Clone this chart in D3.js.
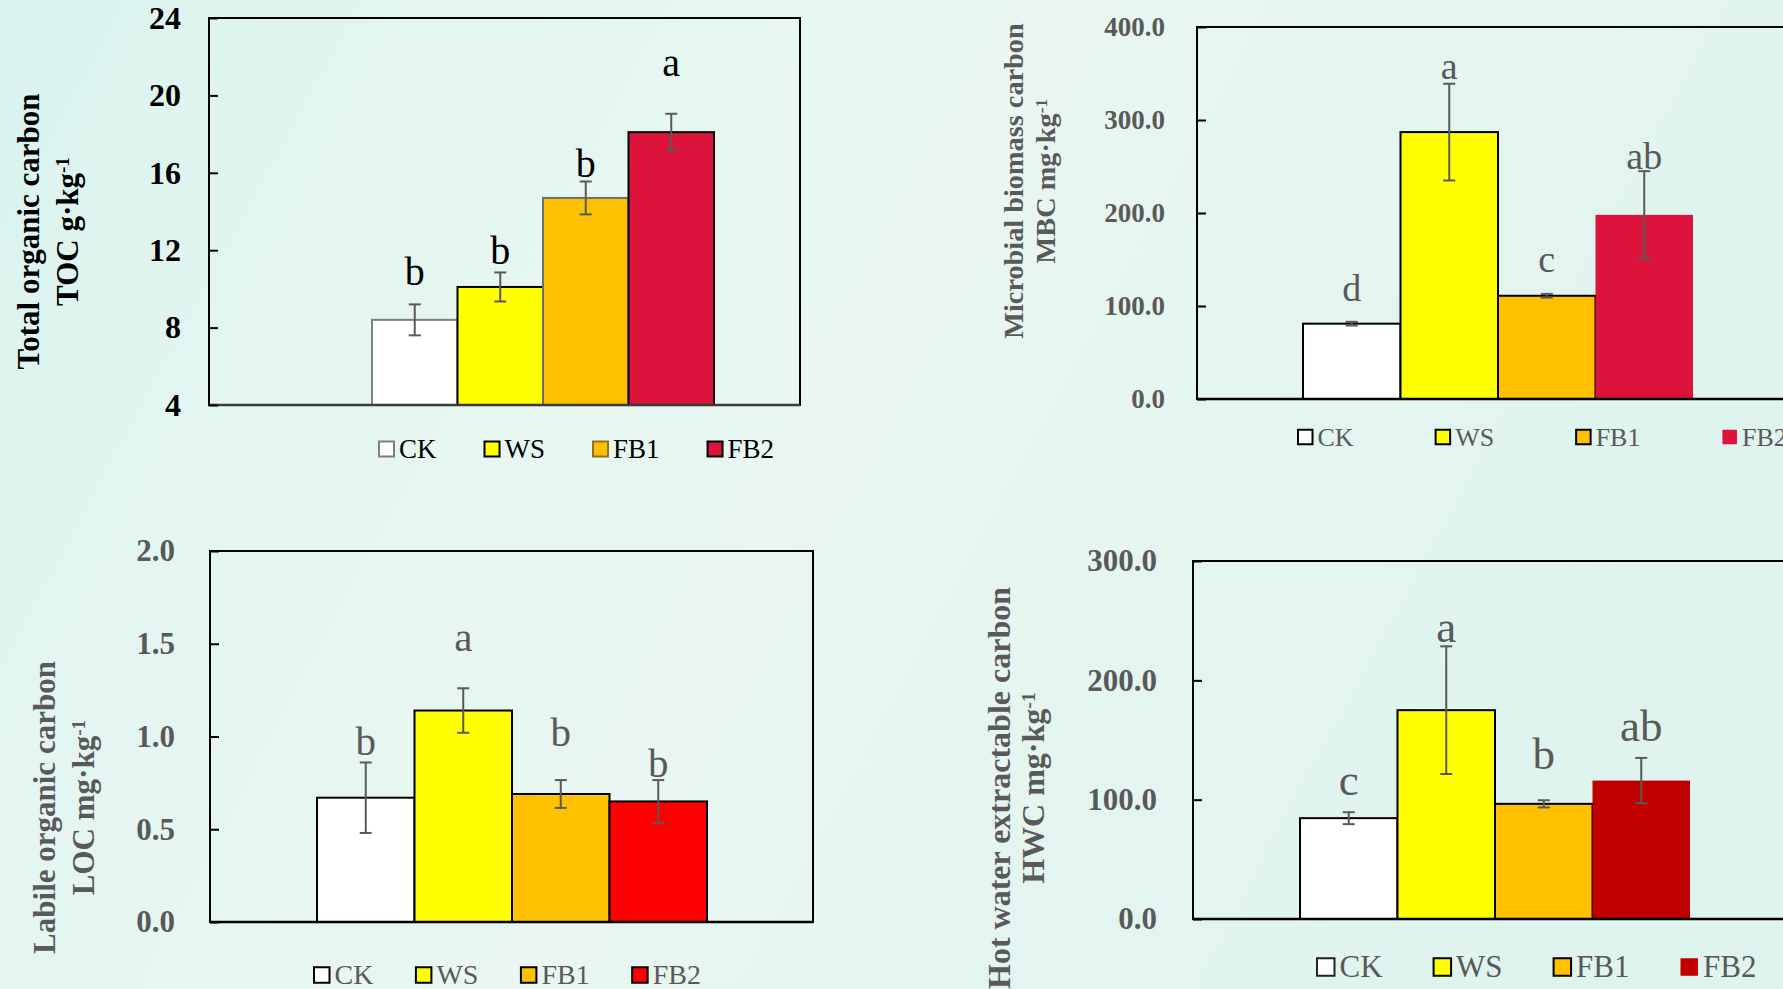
<!DOCTYPE html>
<html>
<head>
<meta charset="utf-8">
<script src="https://cdn.jsdelivr.net/npm/d3@7/dist/d3.min.js"></script>
<style>
  html, body { margin: 0; padding: 0; background: #e5f5f0; }
  svg { display: block; }
  text { font-family: "Liberation Serif", "Times New Roman", serif; }
</style>
</head>
<body>
<svg id="fig" width="1783" height="989"></svg>
<script>
// Treatments shared by all four panels
const groups = ["CK", "WS", "FB1", "FB2"];

// Total organic carbon (g·kg-1)
const tocMean = [8.4, 10.1, 14.7, 18.1];
const tocErr = [0.8, 0.75, 0.85, 0.95];
const tocLetters = ["b", "b", "b", "a"];
const tocLetterAt = [10.2, 11.3, 15.8, 21.0];
const tocTicks = [4, 8, 12, 16, 20, 24];

// Microbial biomass carbon (mg·kg-1)
const mbcMean = [81, 287, 111, 198];
const mbcErr = [2, 52, 2, 47];
const mbcLetters = ["d", "a", "c", "ab"];
const mbcLetterAt = [105, 344, 137, 247];
const mbcTicks = [0, 100, 200, 300, 400];

// Labile organic carbon (mg·kg-1)
const locMean = [0.67, 1.14, 0.69, 0.65];
const locErr = [0.19, 0.12, 0.075, 0.115];
const locLetters = ["b", "a", "b", "b"];
const locLetterAt = [0.90, 1.46, 0.95, 0.78];
const locTicks = [0, 0.5, 1.0, 1.5, 2.0];

// Hot water extractable carbon (mg·kg-1)
const hwcMean = [84.5, 175, 96.5, 116];
const hwcErr = [5, 53.5, 3, 19];
const hwcLetters = ["c", "a", "b", "ab"];
const hwcLetterAt = [104, 232, 126, 149];
const hwcTicks = [0, 100, 200, 300];

const GRAY = "#595959";
const svg = d3.select("#fig");

// soft mint backdrop
const defs = svg.append("defs");
const bg = defs.append("linearGradient").attr("id", "bg").attr("x1", "0").attr("x2", "1").attr("y1", "0").attr("y2", "0.3");
[["0%", "#d9f3ee"], ["25%", "#e4f6f1"], ["55%", "#e9f6f1"], ["80%", "#e3f5f0"], ["100%", "#dff4ee"]]
  .forEach(([o, c]) => bg.append("stop").attr("offset", o).attr("stop-color", c));
svg.append("rect").attr("width", 1783).attr("height", 989).attr("fill", "url(#bg)");

function panel(p) {
  const g = svg.append("g");
  const y = d3.scaleLinear().domain(d3.extent(p.ticks)).range([p.bottom, p.top]);
  const x = d3.scaleBand().domain(groups).range([p.barL, p.barR]).padding(0);
  const base = y.domain()[0];

  // bars
  g.selectAll("rect.bar").data(groups).join("rect")
    .attr("class", "bar")
    .attr("x", d => x(d))
    .attr("width", x.bandwidth())
    .attr("y", (d, i) => y(p.mean[i]))
    .attr("height", (d, i) => y(base) - y(p.mean[i]))
    .attr("fill", (d, i) => p.fill[i])
    .attr("stroke", (d, i) => p.stroke[i])
    .attr("stroke-width", 2);

  // error bars
  const eb = g.selectAll("g.err").data(groups).join("g").attr("class", "err")
    .attr("stroke", GRAY).attr("stroke-width", 2);
  eb.append("line")
    .attr("x1", d => x(d) + x.bandwidth() / 2).attr("x2", d => x(d) + x.bandwidth() / 2)
    .attr("y1", (d, i) => y(p.mean[i] + p.err[i])).attr("y2", (d, i) => y(p.mean[i] - p.err[i]));
  [1, -1].forEach(s => {
    eb.append("line")
      .attr("x1", d => x(d) + x.bandwidth() / 2 - 6).attr("x2", d => x(d) + x.bandwidth() / 2 + 6)
      .attr("y1", (d, i) => y(p.mean[i] + s * p.err[i])).attr("y2", (d, i) => y(p.mean[i] + s * p.err[i]));
  });

  // significance letters
  g.selectAll("text.sig").data(groups).join("text")
    .attr("class", "sig")
    .attr("x", d => x(d) + x.bandwidth() / 2)
    .attr("y", (d, i) => y(p.letterAt[i]))
    .attr("text-anchor", "middle")
    .attr("font-size", p.sigSize)
    .attr("fill", p.color)
    .text((d, i) => p.letters[i]);

  // frame
  g.append("rect")
    .attr("x", p.left).attr("y", p.top)
    .attr("width", p.right - p.left).attr("height", p.bottom - p.top)
    .attr("fill", "none").attr("stroke", "#000").attr("stroke-width", 2);
  g.append("line")
    .attr("x1", p.left).attr("x2", p.right).attr("y1", p.bottom).attr("y2", p.bottom)
    .attr("stroke", p.baseColor).attr("stroke-width", 2.6);

  // value axis with inward ticks
  const ax = g.append("g").attr("transform", `translate(${p.left},0)`)
    .call(d3.axisLeft(y).tickValues(p.ticks).tickFormat(p.fmt)
      .tickSizeInner(-9).tickSizeOuter(0).tickPadding(p.pad));
  ax.select(".domain").remove();
  ax.selectAll(".tick line").attr("stroke", "#000").attr("stroke-width", 2);
  ax.selectAll(".tick text")
    .attr("font-family", "'Liberation Serif', 'Times New Roman', serif")
    .attr("font-size", p.tickSize).attr("font-weight", "bold").attr("fill", p.color);

  // axis title, two rotated lines
  const cy = (p.top + p.bottom) / 2 + p.titleShift;
  g.append("text")
    .attr("transform", `translate(${p.titleX1},${cy}) rotate(-90)`)
    .attr("text-anchor", "middle").attr("font-size", p.titleSize).attr("font-weight", "bold")
    .attr("fill", p.color).text(p.title);
  const t2 = g.append("text")
    .attr("transform", `translate(${p.titleX2},${cy}) rotate(-90)`)
    .attr("text-anchor", "middle").attr("font-size", p.titleSize).attr("font-weight", "bold")
    .attr("fill", p.color);
  t2.append("tspan").text(p.unit);
  t2.append("tspan").attr("dy", "-0.45em").attr("font-size", "62%").text("-1");

  // legend
  let lx = p.legX;
  groups.forEach((d, i) => {
    const s = p.legBox;
    g.append("rect")
      .attr("x", lx).attr("y", p.legY - s / 2).attr("width", s).attr("height", s)
      .attr("fill", p.fill[i]).attr("stroke", p.legStroke[i]).attr("stroke-width", 2);
    const tx = g.append("text")
      .attr("x", lx + s + 5).attr("y", p.legY + p.legSize * 0.33)
      .attr("font-size", p.legSize).attr("fill", p.color).text(d);
    lx = lx + s + 5 + tx.node().getComputedTextLength() + p.legGap;
  });
}

panel({
  mean: tocMean, err: tocErr, letters: tocLetters, letterAt: tocLetterAt, ticks: tocTicks,
  fmt: d3.format("d"),
  left: 209, right: 800, top: 18, bottom: 405, barL: 372, barR: 714,
  fill: ["#ffffff", "#ffff00", "#ffc000", "#dc143c"],
  stroke: ["#7f7f7f", "#000000", "#6e6e6e", "#000000"],
  legStroke: ["#7f7f7f", "#000000", "#8f7420", "#000000"],
  color: "#000", baseColor: "#3a3a3a",
  tickSize: 32, pad: 28, sigSize: 40,
  title: "Total organic carbon", unit: "TOC g·kg", titleSize: 31, titleX1: 39, titleX2: 78, titleShift: 20,
  legX: 379, legY: 449, legBox: 15, legSize: 27, legGap: 48
});

panel({
  mean: mbcMean, err: mbcErr, letters: mbcLetters, letterAt: mbcLetterAt, ticks: mbcTicks,
  fmt: d3.format(".1f"),
  left: 1197, right: 1800, top: 27, bottom: 399, barL: 1303, barR: 1693,
  fill: ["#ffffff", "#ffff00", "#ffc000", "#dc143c"],
  stroke: ["#000000", "#000000", "#000000", "none"],
  legStroke: ["#000000", "#000000", "#000000", "none"],
  color: GRAY, baseColor: "#000",
  tickSize: 27, pad: 32, sigSize: 38,
  title: "Microbial biomass carbon", unit: "MBC mg·kg", titleSize: 28.3, titleX1: 1023, titleX2: 1055, titleShift: -32,
  legX: 1298, legY: 437, legBox: 14.5, legSize: 26, legGap: 82
});

panel({
  mean: locMean, err: locErr, letters: locLetters, letterAt: locLetterAt, ticks: locTicks,
  fmt: d3.format(".1f"),
  left: 210, right: 813, top: 551, bottom: 922, barL: 317, barR: 707,
  fill: ["#ffffff", "#ffff00", "#ffc000", "#ff0000"],
  stroke: ["#000000", "#000000", "#000000", "#000000"],
  legStroke: ["#000000", "#000000", "#000000", "#000000"],
  color: GRAY, baseColor: "#000",
  tickSize: 31, pad: 35, sigSize: 41,
  title: "Labile organic carbon", unit: "LOC mg·kg", titleSize: 31, titleX1: 55, titleX2: 94, titleShift: 71,
  legX: 314, legY: 975, legBox: 15.5, legSize: 28, legGap: 42.5
});

panel({
  mean: hwcMean, err: hwcErr, letters: hwcLetters, letterAt: hwcLetterAt, ticks: hwcTicks,
  fmt: d3.format(".1f"),
  left: 1193, right: 1800, top: 561, bottom: 919, barL: 1300, barR: 1690,
  fill: ["#ffffff", "#ffff00", "#ffc000", "#c00000"],
  stroke: ["#000000", "#000000", "#000000", "none"],
  legStroke: ["#222222", "#000000", "#000000", "none"],
  color: GRAY, baseColor: "#000",
  tickSize: 31, pad: 36, sigSize: 45,
  title: "Hot water extractable carbon", unit: "HWC mg·kg", titleSize: 32, titleX1: 1010, titleX2: 1044, titleShift: 48,
  legX: 1317, legY: 967, legBox: 17.5, legSize: 31, legGap: 51
});
</script>
</body>
</html>
